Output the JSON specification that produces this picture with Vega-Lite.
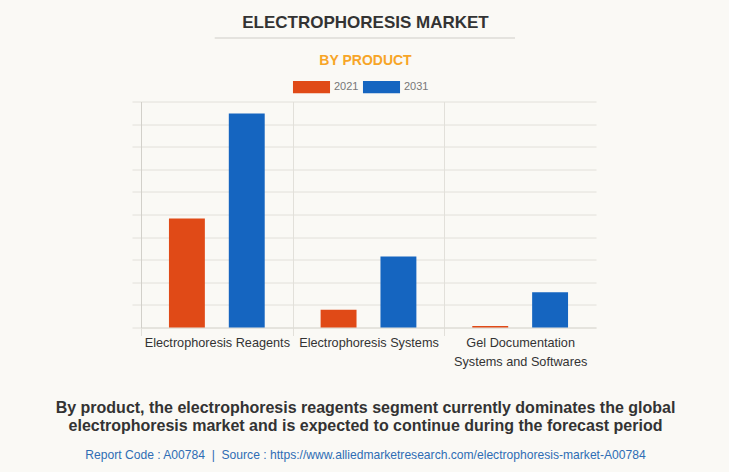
{
  "$schema": "https://vega.github.io/schema/vega-lite/v6.json",
  "background": "#faf9f5",
  "padding": {"left": 55, "top": 13.5, "right": 53, "bottom": 10},
  "bounds": "flush",
  "spacing": 63,
  "resolve": {"legend": {"color": "independent"}},
  "config": {
    "font": "Liberation Sans",
    "view": {"stroke": null},
    "title": {"anchor": "middle", "frame": "group", "dx": -3}
  },
  "vconcat": [
    {
      "width": 455,
      "height": 1,
      "title": {"text": "ELECTROPHORESIS MARKET", "fontSize": 17, "fontWeight": "bold", "color": "#333333", "offset": 6},
      "data": {"values": [{}]},
      "mark": {"type": "rule", "color": "#cfcdc8", "strokeWidth": 1},
      "encoding": {
        "x": {"datum": 0.162, "type": "quantitative", "scale": {"domain": [0, 1]}, "axis": null},
        "x2": {"datum": 0.822}
      }
    },
    {
      "width": 455,
      "height": 226,
      "title": {"text": "BY PRODUCT", "fontSize": 14, "fontWeight": "bold", "color": "#f7a527", "offset": 7},
      "data": {
        "values": [
          {"product": "Electrophoresis Reagents", "year": "2021", "value": 4.82},
          {"product": "Electrophoresis Reagents", "year": "2031", "value": 9.47},
          {"product": "Electrophoresis Systems", "year": "2021", "value": 0.78},
          {"product": "Electrophoresis Systems", "year": "2031", "value": 3.14},
          {"product": "Gel Documentation Systems and Softwares", "year": "2021", "value": 0.07},
          {"product": "Gel Documentation Systems and Softwares", "year": "2031", "value": 1.56}
        ]
      },
      "mark": {"type": "bar"},
      "encoding": {
        "x": {
          "field": "product",
          "type": "nominal",
          "sort": null,
          "scale": {"paddingInner": 0, "paddingOuter": 0},
          "axis": {
            "title": null,
            "labelAngle": 0,
            "labelExpr": "datum.label == 'Gel Documentation Systems and Softwares' ? ['Gel Documentation', 'Systems and Softwares'] : datum.label",
            "labelFontSize": 12.7,
            "labelColor": "#333333",
            "labelPadding": 1,
            "labelLineHeight": 19,
            "tickBand": "extent",
            "tickSize": 8,
            "tickColor": "#e2e0da",
            "tickOpacity": {"condition": {"test": "datum.index == 1", "value": 0}, "value": 1},
            "grid": true,
            "gridColor": "#e2e0da",
            "gridOpacity": {"condition": {"test": "datum.index == 1", "value": 0}, "value": 1},
            "domainColor": "#dcdad4"
          }
        },
        "xOffset": {
          "field": "year",
          "type": "nominal",
          "scale": {"paddingInner": 0.4, "paddingOuter": 0.467}
        },
        "y": {
          "field": "value",
          "type": "quantitative",
          "scale": {"domain": [0, 10], "nice": false},
          "axis": {
            "title": null,
            "labels": false,
            "values": [0, 1, 2, 3, 4, 5, 6, 7, 8, 9, 10],
            "tickSize": 9,
            "tickColor": "#e2e0da",
            "gridColor": "#e2e0da",
            "domainColor": "#d2d0ca"
          }
        },
        "color": {
          "field": "year",
          "type": "nominal",
          "scale": {"domain": ["2021", "2031"], "range": ["#e04a17", "#1565c0"]},
          "legend": {
            "orient": "none",
            "legendX": 158,
            "legendY": -27,
            "direction": "horizontal",
            "title": null,
            "padding": 0,
            "symbolType": "M-1.5,-0.5H1.5V0.5H-1.5Z",
            "symbolSize": 610,
            "symbolStrokeWidth": 0,
            "labelFontSize": 11,
            "labelColor": "#777777",
            "labelOffset": 10,
            "columnPadding": 3
          }
        }
      }
    },
    {
      "width": 455,
      "height": 1,
      "data": {"values": [{}]},
      "mark": {"type": "rule"},
      "encoding": {},
      "title": {
        "text": [
          "By product, the electrophoresis reagents segment currently dominates the global",
          "electrophoresis market and is expected to continue during the forecast period"
        ],
        "orient": "bottom",
        "fontSize": 16,
        "fontWeight": "bold",
        "color": "#333333",
        "lineHeight": 17.5,
        "offset": 8.5,
        "subtitle": "Report Code : A00784\u00a0\u00a0|\u00a0\u00a0Source : https://www.alliedmarketresearch.com/electrophoresis-market-A00784",
        "subtitleFontSize": 12.1,
        "subtitleColor": "#2e6db4",
        "subtitlePadding": 15
      }
    }
  ]
}
